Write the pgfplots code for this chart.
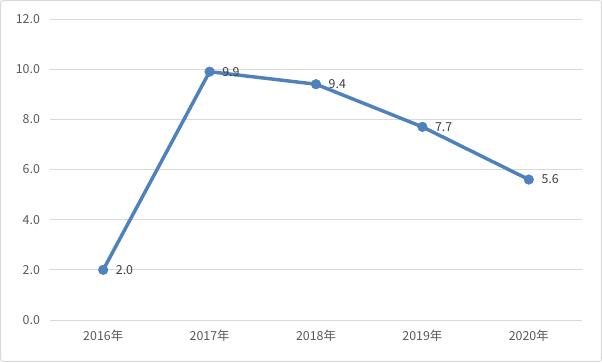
\documentclass[border=0pt]{standalone}
\usepackage{pgfplots}
\pgfplotsset{compat=1.18}
\usepackage{fontspec}
\setmainfont{Noto Sans CJK SC}
\definecolor{lineblue}{HTML}{4F81BD}
\definecolor{gridgray}{HTML}{D9D9D9}
\definecolor{ticktext}{HTML}{595959}
\definecolor{labeltext}{HTML}{404040}
\begin{document}
\begin{tikzpicture}
\useasboundingbox (0,0) rectangle (451.5pt,271.5pt);
\draw[gridgray, line width=0.75pt, rounded corners=2pt] (0.4pt,0.4pt) rectangle (451.1pt,271.1pt);
\begin{axis}[
  at={(37.5pt,31.5pt)}, anchor=south west,
  scale only axis, width=399pt, height=225.75pt,
  xmin=-0.5, xmax=4.5, ymin=0, ymax=12,
  xtick={0,1,2,3,4},
  xticklabels={2016年,2017年,2018年,2019年,2020年},
  ytick={0,2,4,6,8,10,12},
  yticklabel={\pgfmathprintnumber[fixed,fixed zerofill,precision=1]{\tick}},
  /pgf/number format/assume math mode=true,
  ymajorgrids, grid style={gridgray, line width=0.75pt},
  axis line style={draw=none},
  major tick length=0pt,
  tick label style={font=\fontsize{9.3}{11}\selectfont, text=ticktext},
  yticklabel style={xshift=-4pt},
  xticklabel style={yshift=-4pt},
  clip=false,
]
\addplot[lineblue, line width=2.6pt, mark=*, mark size=3.6pt,
  mark options={fill=lineblue, draw=lineblue, line width=0.4pt},
  nodes near coords,
  nodes near coords style={anchor=west, xshift=6pt, text=labeltext,
    font=\fontsize{9.3}{11}\selectfont,
    /pgf/number format/.cd, fixed, fixed zerofill, precision=1, assume math mode=true},
] coordinates {(0,2.0) (1,9.9) (2,9.4) (3,7.7) (4,5.6)};
\end{axis}
\end{tikzpicture}
\end{document}
